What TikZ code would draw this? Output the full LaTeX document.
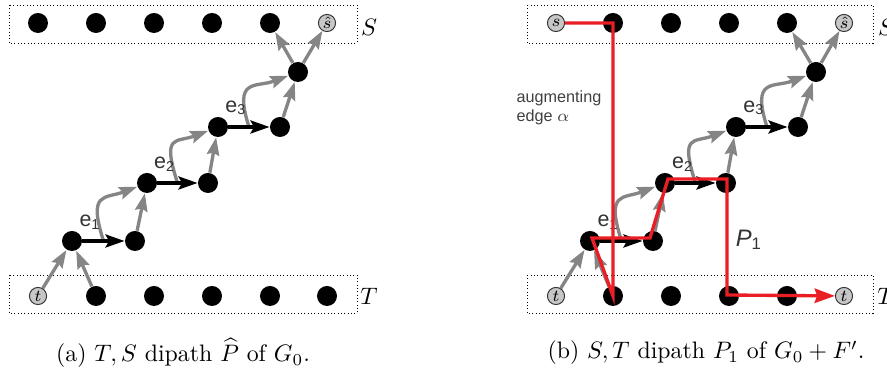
\documentclass[tikz,border=0pt]{standalone}
\usepackage{amsmath,amssymb}
\usepackage{fontspec}
\newfontfamily\arialfont{Liberation Sans}
\usetikzlibrary{calc,arrows.meta}
\definecolor{pathred}{RGB}{234,30,37}

\tikzset{
  vtx/.style={circle,fill=black,inner sep=0pt,minimum size=8.4pt},
  term/.style={circle,draw=black!80,fill=black!22,inner sep=0pt,minimum size=7.2pt,font=\scriptsize},
  grayarc/.style={draw=black!48,line width=1.4pt,-{Stealth[length=7.5pt,width=5.2pt,inset=1pt]}},
  blackarc/.style={line width=1.3pt,-{Stealth[length=8pt,width=5.5pt,inset=1.5pt]}},
  elab/.style={font=\arialfont\fontsize{9}{10}\selectfont,text=black!80},
  setbox/.style={draw,densely dotted,thin},
  augpath/.style={draw=pathred,line width=1.4pt,-{Stealth[length=8.5pt,width=6pt,inset=1pt]}}
}

\begin{document}
\begin{tikzpicture}[x=0.42pt,y=-0.42pt]
\useasboundingbox (0,0) rectangle (887,373);
% the sets S and T
\draw[setbox] (9,5) rectangle (357,43);
\draw[setbox] (9,275) rectangle (357,313);
\draw[setbox] (527,5) rectangle (873,43);
\draw[setbox] (527,275) rectangle (873,313);
\node (lS) at (369,27) {$S$};
\node (lT) at (369,296) {$T$};
\node (rS) at (886,27) {$S$};
\node (rT) at (886,296) {$T$};
% panel (a) rows
\foreach \i/\x in {0/38,1/96,2/154,3/212,4/270} \node[vtx] (l-s\i) at (\x,23) {};
\node[term] (l-s5) at (327,23) {$\hat{s}$};
\node[term] (l-t0) at (38,296) {$t$};
\foreach \i/\x in {1/96,2/154,3/212,4/270,5/327} \node[vtx] (l-t\i) at (\x,296) {};
% panel (b) rows
\node[term] (r-s0) at (556,23) {$s$};
\foreach \i/\x in {1/613,2/671,3/729,4/787} \node[vtx] (r-s\i) at (\x,23) {};
\node[term] (r-s5) at (844,23) {$\hat{s}$};
\node[term] (r-t0) at (556,296) {$t$};
\foreach \i/\x in {1/613,2/671,3/729,4/787} \node[vtx] (r-t\i) at (\x,296) {};
\node[term] (r-t5) at (844,296) {$t$};
% the chain, same in both panels
\foreach \p/\dx in {l/0,r/518} {
  \begin{scope}[shift={(\dx,0)}]
    \node[vtx] (\p-a1) at (72,241) {};
    \node[vtx] (\p-b1) at (135,241) {};
    \node[vtx] (\p-a2) at (147,183) {};
    \node[vtx] (\p-b2) at (208,183) {};
    \node[vtx] (\p-a3) at (218,127) {};
    \node[vtx] (\p-b3) at (280,127) {};
    \node[vtx] (\p-c) at (298,72) {};
  \end{scope}
  \draw[grayarc] (\p-t0) -- (\p-a1);
  \draw[grayarc] (\p-t1) -- (\p-a1);
  \draw[grayarc] (\p-b1) -- (\p-a2);
  \draw[grayarc] (\p-b2) -- (\p-a3);
  \draw[grayarc] (\p-b3) -- (\p-c);
  \draw[grayarc] (\p-c) -- (\p-s4);
  \draw[grayarc] (\p-c) -- (\p-s5);
  \foreach \k/\n in {1/a2,2/a3,3/c} {
    \draw[grayarc] ($(\p-a\k)!0.5!(\p-b\k)$) .. controls ($(\p-a\k)!0.5!(\p-b\k)+(-16,-50)$) and ($(\p-\n)+(-42,16)$) .. (\p-\n);
    \draw[blackarc] (\p-a\k) -- node[elab,pos=0.18,above=1pt] {e\textsubscript{\k}} (\p-b\k);
  }
}
% augmenting path P_1
\draw[augpath] (r-s0) -- (r-s1.center) -- (r-t1.center) -- ($(r-a1)+(2,-3)$) -- ($(r-b1)+(-3,-3)$)
  -- ($(r-a2)+(3,-4)$) -- ($(r-b2)+(1,-4)$) -- ($(r-t3)+(-2,-1)$) -- (r-t5);
\node[font=\arialfont\fontsize{6.8}{8}\selectfont,text=black!75,align=left] (aug) at (559,108) {augmenting\\edge $\alpha$};
\node[font=\arialfont\fontsize{10}{10}\selectfont,text=black!80] (plab) at (749,240) {\textit{P}\textsubscript{1}};
% captions
\node (capa) at (183,353) {(a) $T,S$ dipath $\widehat{P}$ of $G_0$.};
\node (capb) at (706,353) {(b) $S,T$ dipath $P_1$ of $G_0+F'$.};
\end{tikzpicture}
\end{document}
